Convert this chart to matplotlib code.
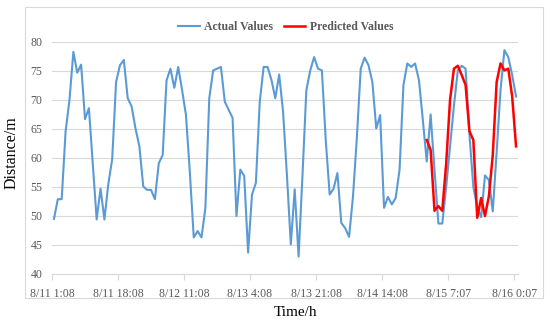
import numpy as np
import matplotlib
matplotlib.use("Agg")
import matplotlib.pyplot as plt
from matplotlib.patches import Rectangle

# hourly distance values
actual = [49.5, 52.9, 52.9, 64.6, 70.0, 78.3, 74.7, 76.1, 66.7, 68.6,
          59.0, 49.4, 54.7, 49.4, 55.5, 59.8, 73.1, 76.0, 76.9, 70.3,
          68.9, 65.1, 62.0, 55.1, 54.5, 54.5, 52.9, 59.1, 60.5, 73.4,
          75.4, 72.1, 75.7, 71.7, 67.4, 57.5, 46.3, 47.4, 46.3, 51.4,
          70.3, 75.1, 75.4, 75.7, 69.7, 68.3, 66.9, 50.0, 58.0, 56.9,
          43.7, 53.7, 55.7, 69.7, 75.7, 75.7, 73.5, 70.3, 74.4, 68.0,
          57.0, 45.1, 54.6, 43.0, 57.0, 71.7, 75.1, 77.4, 75.4, 75.1,
          63.0, 53.7, 54.7, 57.4, 48.8, 47.9, 46.4, 53.3, 63.5, 75.4,
          77.3, 76.0, 73.1, 65.1, 67.4, 51.4, 53.3, 52.0, 53.1, 58.0,
          72.6, 76.3, 75.7, 76.3, 73.4, 66.5, 59.4, 67.5, 58.0, 48.7,
          48.7, 55.0, 62.0, 69.0, 75.1, 75.9, 75.4, 64.0, 55.0, 51.5,
          49.8, 57.0, 56.2, 50.8, 61.0, 71.7, 78.6, 77.4, 74.3, 70.6]
pred_start = 96
predicted = [63.1, 61.4, 50.9, 51.7, 50.9, 59.0, 70.0, 75.4, 75.9, 74.3,
             72.6, 64.6, 63.1, 49.7, 53.1, 50.0, 53.4, 60.5, 73.1, 76.3,
             75.1, 75.4, 70.6, 62.0]
tick_labels = ["8/11 1:08", "8/11 18:08", "8/12 11:08", "8/13 4:08",
               "8/13 21:08", "8/14 14:08", "8/15 7:07", "8/16 0:07"]

grey = "#595959"
plt.rcParams['font.family'] = 'Liberation Serif'

fig = plt.figure(figsize=(5.5, 3.23), dpi=100)
fig.patches.append(Rectangle((25/550, 1-298/323), 518/550, 291/323,
                             transform=fig.transFigure, fill=False,
                             edgecolor="#D9D9D9", lw=0.8))
ax = fig.add_axes([52/550, 1-274/323, 466/550, 232/323])

x = np.arange(len(actual))
xp = np.arange(pred_start, pred_start+len(predicted))
ax.plot(x, actual, color="#5B9BD5", lw=1.5, label="Actual Values")
ax.plot(xp, predicted, color="#FF0000", lw=1.8, label="Predicted Values")

ax.set_xlim(-0.5, len(actual)-0.5)
ax.set_ylim(40, 80)
ax.set_yticks(np.arange(40, 81, 5))
ax.set_xticks(np.arange(len(tick_labels))*17 - 0.5)
ax.set_xticklabels(tick_labels)
ax.grid(axis='y', color="#D9D9D9", lw=0.8)
ax.set_axisbelow(True)
for s in ['top', 'right', 'left']:
    ax.spines[s].set_visible(False)
ax.spines['bottom'].set_color("#D9D9D9")
ax.tick_params(axis='y', length=0, pad=7, labelsize=8.5, labelcolor=grey)
ax.tick_params(axis='x', length=4, color="#D9D9D9", pad=6, labelsize=8.5, labelcolor=grey)

fig.text(12/550, 1-153/323, "Distance/m", rotation=90, ha='center', va='center', fontsize=11.5)
fig.text(295/550, 1-313/323, "Time/h", ha='center', va='center', fontsize=11)

leg = ax.legend(loc='center', bbox_to_anchor=(0.52, 1-27/323), bbox_transform=fig.transFigure,
                ncol=2, frameon=False, fontsize=8.5, handlelength=1.8,
                handletextpad=0.4, columnspacing=0.9)
for t in leg.get_texts():
    t.set_color(grey)
    t.set_fontweight('bold')

fig.savefig("out.png", dpi=100)
